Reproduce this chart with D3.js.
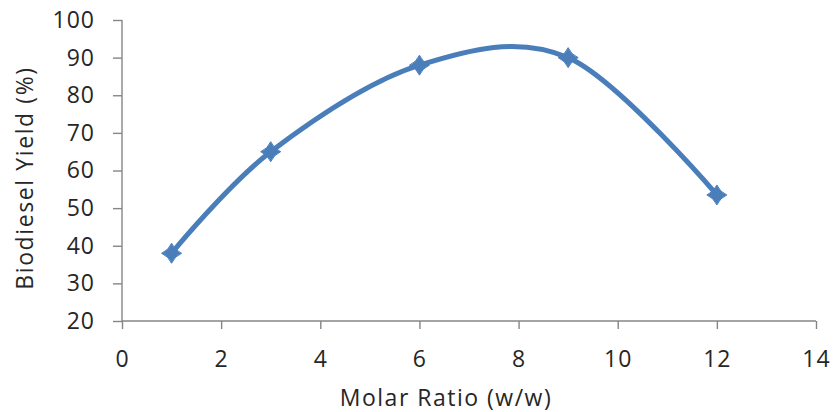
<!DOCTYPE html>
<html>
<head>
<meta charset="utf-8">
<script src="https://cdn.jsdelivr.net/npm/d3@7"></script>
<style>
  html, body { margin: 0; padding: 0; background: #fff; }
  svg { display: block; }
  text { font-family: "Open Sans", "Noto Sans", sans-serif; fill: #262626; }
</style>
</head>
<body>
<svg id="chart" width="833" height="412"></svg>
<script>
// Biodiesel yield versus molar ratio
const molarRatio = [1, 3, 6, 9, 12];
const yieldPct = [38, 65, 88, 90, 53.5];
const xTicks = [0, 2, 4, 6, 8, 10, 12, 14];
const yTicks = [20, 30, 40, 50, 60, 70, 80, 90, 100];

const svg = d3.select("#chart");
const margin = { left: 122, right: 17, top: 20, bottom: 91 };
const W = 833, H = 412;

const x = d3.scaleLinear().domain([0, 14]).range([margin.left, W - margin.right]);
const y = d3.scaleLinear().domain([20, 100]).range([H - margin.bottom, margin.top]);

const axisColor = "#868686";

// Y axis
const gy = svg.append("g")
  .attr("transform", `translate(${margin.left},0)`)
  .call(d3.axisLeft(y).tickValues(yTicks).tickSize(9).tickPadding(18).tickFormat(d3.format("d")));
// X axis
const gx = svg.append("g")
  .attr("transform", `translate(0,${y(20)})`)
  .call(d3.axisBottom(x).tickValues(xTicks).tickSize(8).tickPadding(22).tickFormat(d3.format("d")));

[gx, gy].forEach(g => {
  g.select(".domain").attr("stroke", axisColor).attr("stroke-width", 1.4);
  g.selectAll(".tick line").attr("stroke", axisColor).attr("stroke-width", 1.4);
  g.selectAll(".tick text")
    .style("font-size", "23px")
    .style("letter-spacing", "1px")
    .attr("fill", "#262626");
});
gy.select(".domain").attr("d", `M0,${y(100)}V${y(20)}`);
gx.select(".domain").attr("d", `M${x(0)},0H${x(14)}`);

// Axis titles
svg.append("text")
  .attr("x", 446)
  .attr("y", 406)
  .attr("text-anchor", "middle")
  .style("font-size", "23px")
  .style("letter-spacing", "1.5px")
  .text("Molar Ratio (w/w)");

svg.append("text")
  .attr("transform", "translate(33,178) rotate(-90)")
  .attr("text-anchor", "middle")
  .style("font-size", "23px")
  .style("letter-spacing", "1.6px")
  .text("Biodiesel Yield (%)");

const pts = molarRatio.map((m, i) => [m, yieldPct[i]]);
const blue = "#4A7EBB";

// Smoothed series line
svg.append("path")
  .datum(pts)
  .attr("fill", "none")
  .attr("stroke", blue)
  .attr("stroke-width", 5)
  .attr("stroke-linecap", "round")
  .attr("d", d3.line().x(d => x(d[0])).y(d => y(d[1])).curve(d3.curveCardinal.tension(0)));

// Diamond markers
const r = 10;
const c = 3;
const markerPath = `M0,${-r} Q${c},${-c} ${r},0 Q${c},${c} 0,${r} Q${-c},${c} ${-r},0 Q${-c},${-c} 0,${-r}Z`;
svg.selectAll("path.marker")
  .data(pts)
  .join("path")
  .attr("class", "marker")
  .attr("transform", d => `translate(${x(d[0])},${y(d[1])})`)
  .attr("d", markerPath)
  .attr("fill", blue)
  .attr("stroke", blue)
  .attr("stroke-width", 1);
</script>
</body>
</html>
